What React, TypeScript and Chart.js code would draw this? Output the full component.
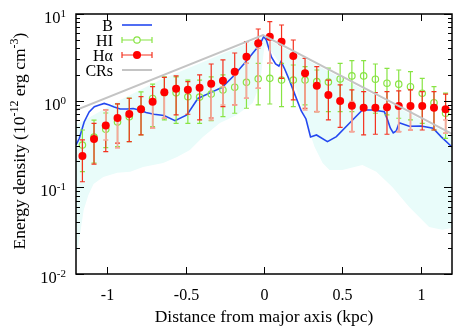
import React, { useEffect, useRef } from "react";
import { Chart, registerables } from "chart.js";

Chart.register(...registerables);

// ---- Data ----
const obsX = [-1.159, -1.085, -1.01, -0.935, -0.86, -0.785, -0.711, -0.636, -0.561, -0.486, -0.411, -0.337, -0.262, -0.187, -0.112, -0.037,
  0.037, 0.112, 0.187, 0.262, 0.337, 0.411, 0.486, 0.561, 0.636, 0.711, 0.785, 0.86, 0.935, 1.01, 1.085, 1.159];

const haY = [0.23, 0.362, 0.518, 0.631, 0.703, 0.796, 0.974, 1.25, 1.375, 1.34, 1.41, 1.57, 1.7, 2.16, 3.22, 4.59,
  5.47, 4.79, 3.28, 2.07, 1.49, 1.16, 0.99, 0.876, 0.83, 0.83, 0.839, 0.869, 0.869, 0.869, 0.83, 0.796];
const haLo = [0.116, 0.185, 0.258, 0.323, 0.337, 0.402, 0.481, 0.627, 0.684, 0.697, 0.599, 0.631, 0.853, 0.892, 1.066, 1.39,
  2.7, 1.81, 1.02, 0.817, 0.747, 0.599, 0.493, 0.439, 0.402, 0.41, 0.41, 0.439, 0.459, 0.459, 0.459, 0.421];
const haHi = [0.352, 0.548, 0.781, 0.916, 1.066, 1.112, 1.45, 1.86, 1.93, 1.66, 1.98, 2.65, 2.95, 3.55, 4.79, 6.71,
  8.15, 7.47, 5.01, 3.08, 2.47, 1.73, 1.52, 1.33, 1.27, 1.24, 1.27, 1.3, 1.33, 1.27, 1.27, 1.19];
const haSysLo = [null, null, 0.352, 0.285, null, null, 0.481, 0.627, null, null, null, 0.599, 0.892, 0.892, 1.066, 1.39,
  2.7, null, null, 0.781, 0.747, null, null, 0.439, null, null, null, 0.439, 0.459, null, null, 0.421];
const haSysHi = [null, null, 0.78, 0.631, null, null, 0.94, 1.25, null, null, null, 1.66, 1.45, 1.98, 2.7, 4.02,
  5.01, null, null, 2.07, 1.45, null, null, 0.974, null, null, null, 0.853, 0.853, null, null, 0.599];

const hiY = [0.308, 0.381, 0.468, 0.568, 0.653, 0.802, 1.06, 1.23, 1.23, 1.11, 1.1, 1.19, 1.33, 1.43, 1.63, 1.79,
  1.81, 1.73, 1.73, 1.73, 1.66, 1.64, 1.78, 1.93, 1.93, 1.77, 1.59, 1.55, 1.45, 1.22, 0.948, 0.716];
const hiLo = [0.152, 0.191, 0.287, 0.295, 0.337, 0.402, 0.501, 0.599, 0.548, 0.548, 0.548, 0.588, 0.653, 0.716, 0.817, 0.892,
  0.915, 0.853, 0.853, 0.892, 0.747, 0.747, 0.747, 0.747, 0.781, 0.716, 0.684, 0.627, 0.599, 0.548, 0.459, 0.368];
const hiHi = [0.459, 0.597, 0.721, 0.916, 1.07, 1.26, 1.55, 1.88, 1.88, 1.73, 1.73, 1.88, 1.98, 2.16, 2.7, 2.7,
  2.7, 2.7, 2.58, 2.47, 2.26, 2.38, 2.7, 2.89, 2.89, 2.65, 2.36, 2.26, 2.16, 1.81, 1.45, 1.22];

const bX = [-1.2, -1.179, -1.148, -1.116, -1.083, -1.051, -1.02, -0.988, -0.956, -0.918, -0.874, -0.835, -0.797, -0.753, -0.702,
  -0.638, -0.568, -0.492, -0.422, -0.345, -0.269, -0.199, -0.123, -0.05, -0.017, -0.002, 0.015, 0.047, 0.074, 0.095, 0.109,
  0.132, 0.164, 0.196, 0.238, 0.268, 0.297, 0.335, 0.405, 0.462, 0.545, 0.628, 0.698, 0.768, 0.789, 0.806, 0.825, 0.844,
  0.863, 0.927, 1.003, 1.079, 1.13, 1.2];
const bY = [0.308, 0.366, 0.568, 0.741, 0.853, 0.892, 0.929, 0.892, 0.846, 0.802, 0.802, 0.813, 0.781, 0.731, 0.697,
  0.675, 0.588, 0.684, 1.06, 1.23, 1.42, 1.89, 2.72, 3.95, 4.8, 5.5, 5.01, 3.19, 2.65, 2.51, 2.83,
  2.32, 1.69, 1.19, 0.761, 0.615, 0.381, 0.402, 0.337, 0.385, 0.548, 0.781, 0.781, 0.747, 0.599, 0.484, 0.424, 0.447,
  0.557, 0.507, 0.511, 0.481, 0.385, 0.292];

const crX = [-1.2, -0.006, 1.2];
const crY = [0.781, 5.72, 0.413];

const bandUpX = [-1.2, -0.918, -0.664, -0.008, 1.2];
const bandUpY = [0.525, 1.02, 1.73, 5.43, 0.392];
const bandLoX = [-1.2, -1.185, -1.172, -1.151, -1.121, -1.088, -1.026, -0.937, -0.854, -0.772, -0.644, -0.555, -0.473, -0.39,
  -0.282, -0.174, -0.072, -0.027, 0.004, 0.049, 0.132, 0.208, 0.272, 0.323, 0.374, 0.418, 0.501, 0.628, 0.717, 0.819,
  0.927, 1.054, 1.137, 1.2];
const bandLoY = [0.0153, 0.0217, 0.0306, 0.0548, 0.0817, 0.109, 0.132, 0.147, 0.151, 0.172, 0.191, 0.224, 0.27, 0.381,
  0.553, 0.684, 0.94, 1.52, 4.39, 3.65, 2.26, 1.33, 0.553, 0.292, 0.191, 0.159, 0.159, 0.181, 0.151, 0.101,
  0.0594, 0.0349, 0.0323, 0.034];

const xTicks = [-1, -0.5, 0, 0.5, 1];
const xTickLabels = ["-1", "-0.5", "0", "0.5", "1"];
const yDecades = [-2, -1, 0, 1];
const yTickSups = ["-2", "-1", "0", "1"];
const legendLabels = ["B", "HI", "H\u03b1", "CRs"];

// ---- Styles ----
const FONT = '"Liberation Serif", "Times New Roman", serif';
const BLUE = "#2448f0";
const GREEN = "#88e444";
const RED = "#ff0000";
const REDBAR = "#f43220";
const PINK = "#f6a89a";
const GRAY = "#c4c4c4";
const CYAN = "#e9fcfa";

type Seg = { t: string; sup?: boolean };

function drawRich(ctx: CanvasRenderingContext2D, segs: Seg[], x: number, y: number, align: string, size: number, supSize: number, rise: number) {
  const widths = segs.map((s) => {
    ctx.font = `${s.sup ? supSize : size}px ${FONT}`;
    return ctx.measureText(s.t).width;
  });
  const total = widths.reduce((a, b) => a + b, 0);
  let cx = align === "left" ? x : align === "center" ? x - total / 2 : x - total;
  ctx.textAlign = "left";
  ctx.textBaseline = "alphabetic";
  segs.forEach((s, i) => {
    ctx.font = `${s.sup ? supSize : size}px ${FONT}`;
    ctx.fillText(s.t, cx, s.sup ? y - rise : y);
    cx += widths[i];
  });
}

function drawBar(ctx: CanvasRenderingContext2D, px: number, y1: number, y2: number, cap: number) {
  ctx.beginPath();
  ctx.moveTo(px, y1);
  ctx.lineTo(px, y2);
  ctx.moveTo(px - cap, y1);
  ctx.lineTo(px + cap, y1);
  ctx.moveTo(px - cap, y2);
  ctx.lineTo(px + cap, y2);
  ctx.stroke();
}

const errorBarPlugin = {
  id: "errorBars",
  beforeDatasetDraw(chart: any, args: any) {
    const { ctx, scales } = chart;
    const xs = scales.x;
    const ys = scales.y;
    if (args.index === 3) {
      ctx.save();
      ctx.strokeStyle = GREEN;
      ctx.lineWidth = 1.2;
      obsX.forEach((xv, i) => {
        drawBar(ctx, xs.getPixelForValue(xv), ys.getPixelForValue(hiLo[i]), ys.getPixelForValue(hiHi[i]), 2.5);
      });
      ctx.restore();
    }
    if (args.index === 4) {
      ctx.save();
      ctx.strokeStyle = REDBAR;
      ctx.lineWidth = 1.2;
      obsX.forEach((xv, i) => {
        drawBar(ctx, xs.getPixelForValue(xv), ys.getPixelForValue(haLo[i]), ys.getPixelForValue(haHi[i]), 2.5);
      });
      ctx.strokeStyle = PINK;
      ctx.lineWidth = 1.6;
      obsX.forEach((xv, i) => {
        const lo = haSysLo[i];
        const hi = haSysHi[i];
        if (lo == null || hi == null) return;
        drawBar(ctx, xs.getPixelForValue(xv), ys.getPixelForValue(lo), ys.getPixelForValue(hi), 2.5);
      });
      ctx.restore();
    }
  },
};

const decorPlugin = {
  id: "decor",
  afterDraw(chart: any) {
    const { ctx, chartArea: a, scales } = chart;
    const xs = scales.x;
    const ys = scales.y;
    ctx.save();
    // frame
    ctx.strokeStyle = "#000";
    ctx.lineWidth = 1.5;
    ctx.strokeRect(a.left, a.top, a.right - a.left, a.bottom - a.top);
    ctx.lineWidth = 1;
    // x ticks
    ctx.fillStyle = "#000";
    xTicks.forEach((v, i) => {
      const px = Math.round(xs.getPixelForValue(v)) + 0.5;
      ctx.beginPath();
      ctx.moveTo(px, a.bottom);
      ctx.lineTo(px, a.bottom - 7);
      ctx.moveTo(px, a.top);
      ctx.lineTo(px, a.top + 7);
      ctx.stroke();
      ctx.font = `16px ${FONT}`;
      ctx.textAlign = "center";
      ctx.textBaseline = "alphabetic";
      ctx.fillText(xTickLabels[i], px, 300);
    });
    // y ticks
    yDecades.forEach((e, i) => {
      const major = Math.pow(10, e);
      const py = Math.round(ys.getPixelForValue(major)) + 0.5;
      ctx.beginPath();
      ctx.moveTo(a.left, py);
      ctx.lineTo(a.left + 8, py);
      ctx.moveTo(a.right, py);
      ctx.lineTo(a.right - 8, py);
      ctx.stroke();
      if (e < 1) {
        for (let k = 2; k <= 9; k++) {
          const my = Math.round(ys.getPixelForValue(k * major)) + 0.5;
          ctx.beginPath();
          ctx.moveTo(a.left, my);
          ctx.lineTo(a.left + 4, my);
          ctx.moveTo(a.right, my);
          ctx.lineTo(a.right - 4, my);
          ctx.stroke();
        }
      }
      drawRich(ctx, [{ t: "10" }, { t: yTickSups[i], sup: true }], 66, py + 8.5, "right", 16.5, 11, 6.5);
    });
    // axis titles
    drawRich(ctx, [{ t: "Distance from major axis (kpc)" }], (a.left + a.right) / 2, 321.5, "center", 17.5, 12, 7);
    ctx.save();
    ctx.translate(25, 141);
    ctx.rotate(-Math.PI / 2);
    drawRich(ctx, [{ t: "Energy density (10" }, { t: "-12", sup: true }, { t: " erg cm" }, { t: "-3", sup: true }, { t: ")" }], 0, 0, "center", 17.5, 12, 7);
    ctx.restore();
    // legend
    const ly = [25, 40, 55, 70];
    const sx1 = 122;
    const sx2 = 152;
    const sxm = 137;
    ctx.fillStyle = "#000";
    legendLabels.forEach((lab, i) => {
      ctx.font = `16px ${FONT}`;
      ctx.textAlign = "right";
      ctx.textBaseline = "alphabetic";
      ctx.fillText(lab, 113, ly[i] + 5.5);
    });
    // B
    ctx.strokeStyle = BLUE;
    ctx.lineWidth = 1.6;
    ctx.beginPath();
    ctx.moveTo(sx1, ly[0]);
    ctx.lineTo(sx2, ly[0]);
    ctx.stroke();
    // HI
    ctx.strokeStyle = GREEN;
    ctx.lineWidth = 1.2;
    ctx.beginPath();
    ctx.moveTo(sx1, ly[1]);
    ctx.lineTo(sx2, ly[1]);
    ctx.moveTo(sx1, ly[1] - 3);
    ctx.lineTo(sx1, ly[1] + 3);
    ctx.moveTo(sx2, ly[1] - 3);
    ctx.lineTo(sx2, ly[1] + 3);
    ctx.stroke();
    ctx.fillStyle = "#fff";
    ctx.beginPath();
    ctx.arc(sxm, ly[1], 3.2, 0, Math.PI * 2);
    ctx.fill();
    ctx.stroke();
    // Ha
    ctx.strokeStyle = REDBAR;
    ctx.beginPath();
    ctx.moveTo(sx1, ly[2]);
    ctx.lineTo(sx2, ly[2]);
    ctx.moveTo(sx1, ly[2] - 3);
    ctx.lineTo(sx1, ly[2] + 3);
    ctx.moveTo(sx2, ly[2] - 3);
    ctx.lineTo(sx2, ly[2] + 3);
    ctx.stroke();
    ctx.fillStyle = RED;
    ctx.beginPath();
    ctx.arc(sxm, ly[2], 4, 0, Math.PI * 2);
    ctx.fill();
    // CRs
    ctx.strokeStyle = GRAY;
    ctx.lineWidth = 2;
    ctx.beginPath();
    ctx.moveTo(sx1, ly[3]);
    ctx.lineTo(sx2, ly[3]);
    ctx.stroke();
    ctx.restore();
  },
};

function pts(xs: number[], ys: number[]) {
  return xs.map((x, i) => ({ x, y: ys[i] }));
}

export default function App() {
  const ref = useRef<HTMLCanvasElement | null>(null);
  useEffect(() => {
    if (!ref.current) return;
    const chart = new Chart(ref.current, {
      type: "scatter",
      data: {
        datasets: [
          {
            label: "band-up",
            data: pts(bandUpX, bandUpY),
            showLine: true,
            pointRadius: 0,
            borderWidth: 0,
            borderColor: "rgba(0,0,0,0)",
            backgroundColor: CYAN,
            fill: "+1",
            order: 10,
          },
          {
            label: "band-lo",
            data: pts(bandLoX, bandLoY),
            showLine: true,
            pointRadius: 0,
            borderWidth: 0,
            borderColor: "rgba(0,0,0,0)",
            fill: false,
            order: 10,
          },
          {
            label: "B",
            data: pts(bX, bY),
            showLine: true,
            pointRadius: 0,
            borderWidth: 1.6,
            borderColor: BLUE,
            fill: false,
            order: 5,
          },
          {
            label: "HI",
            data: pts(obsX, hiY),
            showLine: false,
            pointRadius: 3.2,
            pointBorderWidth: 1.2,
            pointBorderColor: GREEN,
            pointBackgroundColor: "rgba(0,0,0,0)",
            borderColor: GREEN,
            backgroundColor: "rgba(0,0,0,0)",
            order: 4,
          },
          {
            label: "H\u03b1",
            data: pts(obsX, haY),
            showLine: false,
            pointRadius: 4,
            pointBorderWidth: 0,
            pointBackgroundColor: RED,
            borderColor: RED,
            backgroundColor: RED,
            order: 3,
          },
          {
            label: "CRs",
            data: pts(crX, crY),
            showLine: true,
            pointRadius: 0,
            borderWidth: 2,
            borderColor: GRAY,
            fill: false,
            order: 2,
          },
        ],
      },
      options: {
        responsive: false,
        animation: false,
        layout: { padding: { left: 76, right: 6, top: 14, bottom: 58 } },
        plugins: { legend: { display: false }, tooltip: { enabled: false } },
        scales: {
          x: { type: "linear", min: -1.2, max: 1.2, display: false },
          y: { type: "logarithmic", min: 0.01, max: 10, display: false },
        },
      },
      plugins: [errorBarPlugin, decorPlugin],
    });
    return () => chart.destroy();
  }, []);
  return (
    <div style={{ position: "fixed", left: 0, top: 0, width: 458, height: 332, background: "#fff" }}>
      <canvas ref={ref} width={458} height={332} style={{ display: "block" }} />
    </div>
  );
}
